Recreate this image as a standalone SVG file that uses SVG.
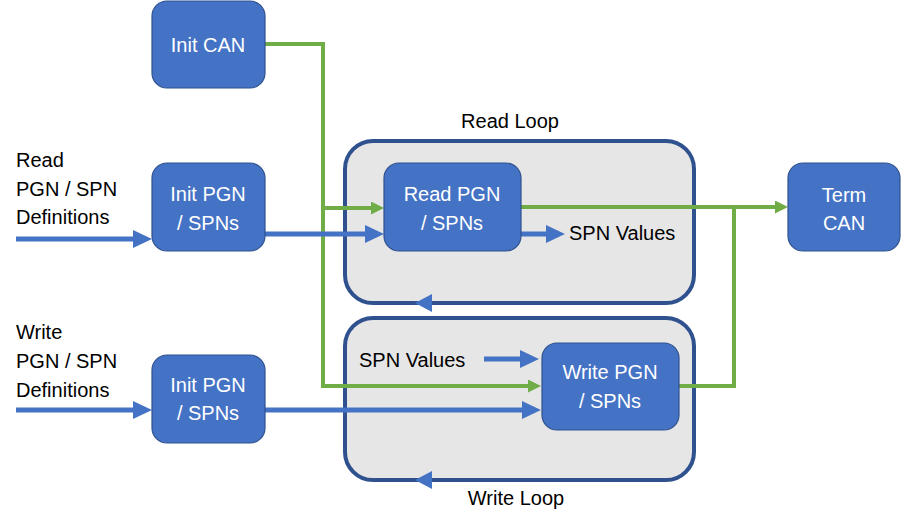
<svg xmlns="http://www.w3.org/2000/svg" width="901" height="528" viewBox="0 0 901 528">
<style>
  .node { fill: #4472C4; stroke: #2F528F; stroke-width: 1.2; }
  .loop { fill: #E7E6E6; stroke: #2F528F; stroke-width: 4; }
  .ntext { font-family: "Liberation Sans", Arial, sans-serif; font-size: 20px; fill: #FFFFFF; text-anchor: middle; }
  .label { font-family: "Liberation Sans", Arial, sans-serif; font-size: 20px; fill: #000000; }
  .blue { fill: none; stroke: #4472C4; stroke-width: 5; marker-end: url(#ab); }
  .green { fill: none; stroke: #70AD47; stroke-width: 4; }
  .garrow { marker-end: url(#ag); }
  .head { fill: #4472C4; }
</style>
<defs>
  <marker id="ab" markerUnits="userSpaceOnUse" markerWidth="20" markerHeight="20" refX="9" refY="9" orient="auto">
    <path d="M0,0 L19,9 L0,18 Z" fill="#4472C4"/>
  </marker>
  <marker id="ag" markerUnits="userSpaceOnUse" markerWidth="14" markerHeight="14" refX="6" refY="6.5" orient="auto">
    <path d="M0,0 L13,6.5 L0,13 Z" fill="#70AD47"/>
  </marker>
</defs>

<g id="read-loop">
  <rect class="loop" x="345" y="141" width="349" height="162" rx="28"/>
  <text class="label" x="510" y="128" text-anchor="middle">Read Loop</text>
  <polygon class="head" points="415,303 432,294 432,312"/>
</g>
<g id="write-loop">
  <rect class="loop" x="345" y="318" width="349" height="162" rx="28"/>
  <text class="label" x="516" y="505" text-anchor="middle">Write Loop</text>
  <polygon class="head" points="415,480 432,471 432,489"/>
</g>

<g id="connectors">
  <path class="green" d="M265,44 H323 V386 H534" marker-end="url(#ag)"/>
  <path class="green" d="M323,208 H377" marker-end="url(#ag)"/>
  <path class="green" d="M521,207 H781" marker-end="url(#ag)"/>
  <path class="green" d="M679,386 H734 V207"/>
  <path class="blue" d="M16,239 H142"/>
  <path class="blue" d="M265,234 H374"/>
  <path class="blue" d="M521,234 H555"/>
  <path class="blue" d="M16,410 H142"/>
  <path class="blue" d="M265,410 H531"/>
  <path class="blue" d="M484,359 H529"/>
</g>

<g id="label-read-input">
  <text class="label" x="16" y="167">Read</text>
  <text class="label" x="16" y="196">PGN / SPN</text>
  <text class="label" x="16" y="224">Definitions</text>
</g>
<g id="label-write-input">
  <text class="label" x="16" y="339">Write</text>
  <text class="label" x="16" y="368">PGN / SPN</text>
  <text class="label" x="16" y="397">Definitions</text>
</g>
<g id="label-spn-values-out">
  <text class="label" x="569" y="240">SPN Values</text>
</g>
<g id="label-spn-values-in">
  <text class="label" x="359" y="367">SPN Values</text>
</g>

<g id="init-can">
  <rect class="node" x="152" y="1" width="113" height="87" rx="15"/>
  <text class="ntext" x="208" y="52">Init CAN</text>
</g>
<g id="init-pgn-read">
  <rect class="node" x="152" y="163" width="113" height="88" rx="15"/>
  <text class="ntext" x="208" y="201">Init PGN</text>
  <text class="ntext" x="208" y="230">/ SPNs</text>
</g>
<g id="init-pgn-write">
  <rect class="node" x="152" y="355" width="113" height="88" rx="15"/>
  <text class="ntext" x="208" y="392">Init PGN</text>
  <text class="ntext" x="208" y="420">/ SPNs</text>
</g>
<g id="read-pgn">
  <rect class="node" x="384" y="163" width="137" height="88" rx="15"/>
  <text class="ntext" x="452" y="201">Read PGN</text>
  <text class="ntext" x="452" y="230">/ SPNs</text>
</g>
<g id="write-pgn">
  <rect class="node" x="542" y="343" width="137" height="87" rx="15"/>
  <text class="ntext" x="610" y="379">Write PGN</text>
  <text class="ntext" x="610" y="408">/ SPNs</text>
</g>
<g id="term-can">
  <rect class="node" x="788" y="163" width="112" height="88" rx="15"/>
  <text class="ntext" x="844" y="202">Term</text>
  <text class="ntext" x="844" y="230">CAN</text>
</g>
</svg>
